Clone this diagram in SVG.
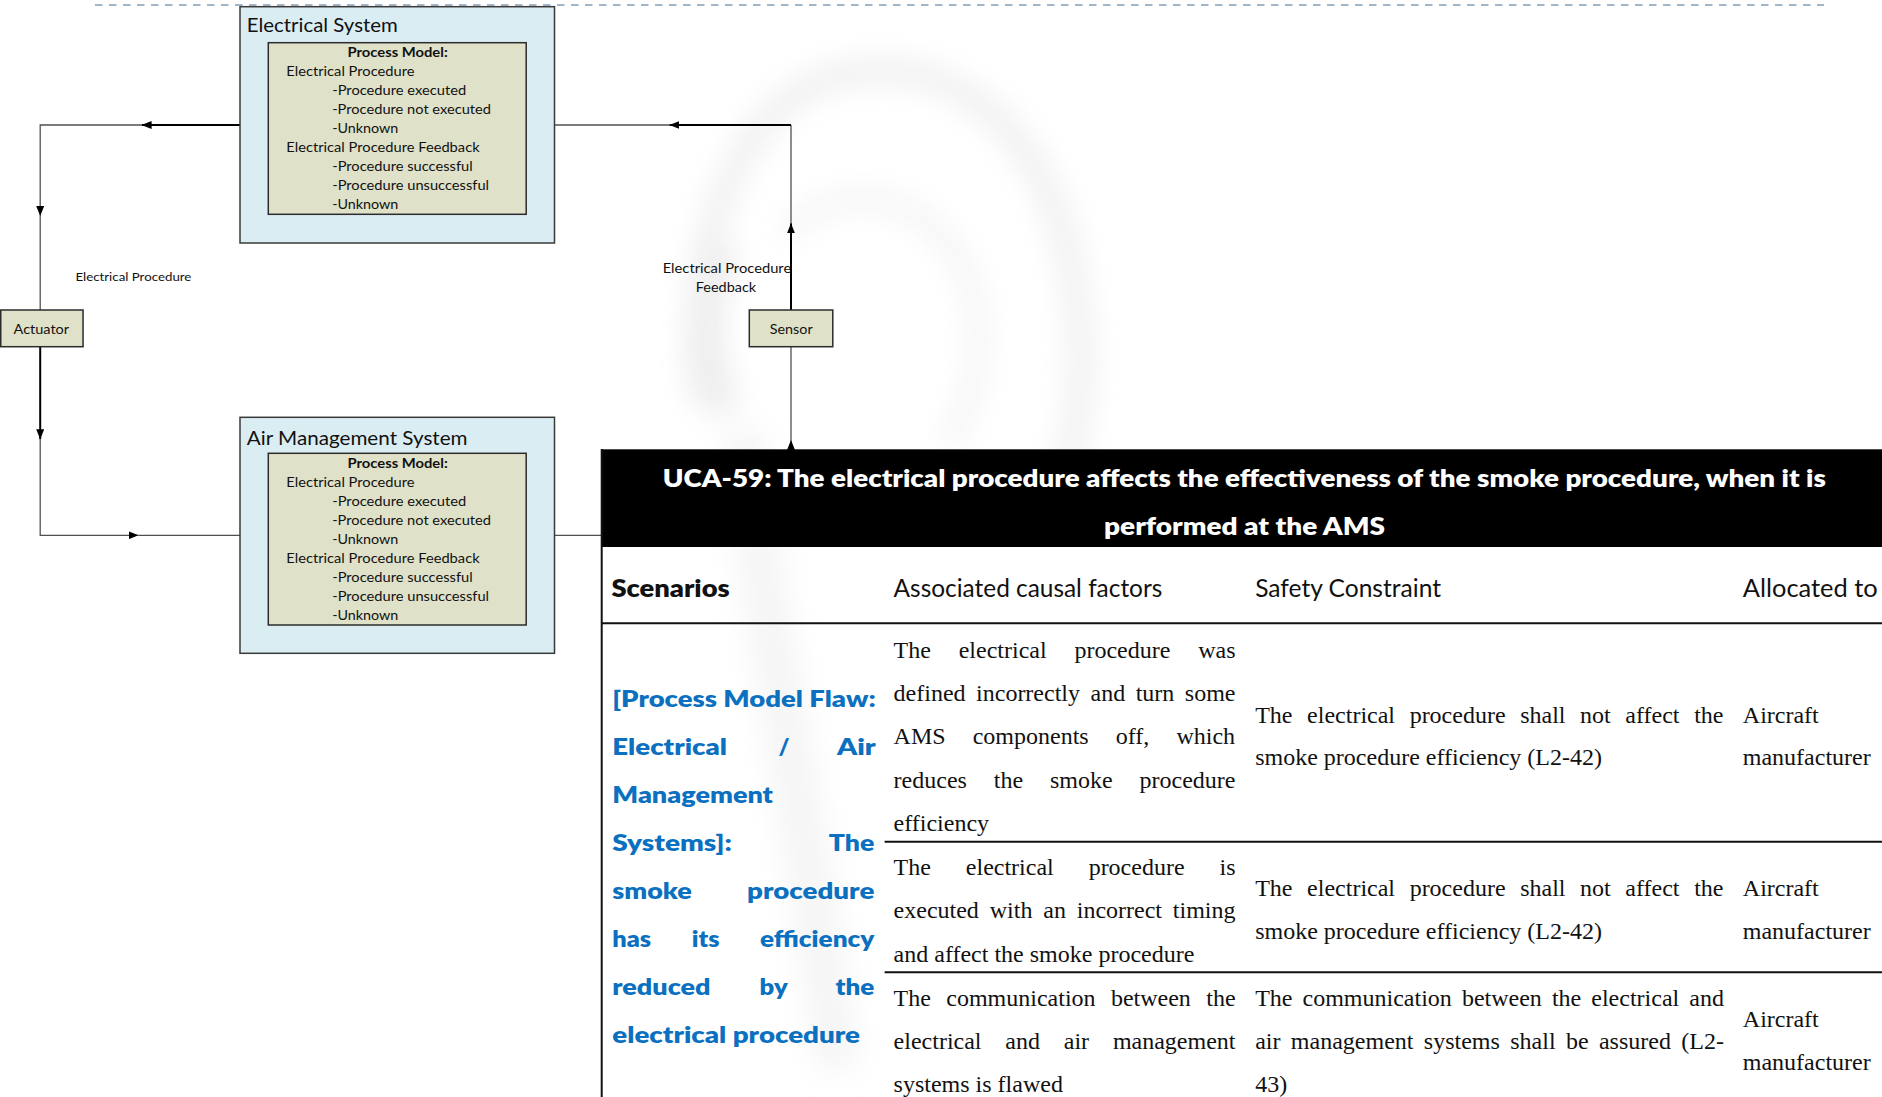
<svg xmlns="http://www.w3.org/2000/svg" width="1882" height="1097" viewBox="0 0 1882 1097">
  <style>
    .sys { fill: #daedf3; stroke: #3a3a3a; stroke-width: 1.5; }
    .pm { fill: #dfe1c9; stroke: #2c2c2c; stroke-width: 1.5; }
    .blk { fill: #dfe1c9; stroke: #2c2c2c; stroke-width: 1.5; }
    .ui { font-family: Lato, "Open Sans", "Liberation Sans", sans-serif; fill: #111; }
    .title { font-size: 19px; }
    .pmt { font-size: 13px; }
    .pmh { font-size: 13px; font-weight: 700; }
    .lbl { font-size: 13px; }
    .thin { fill: none; stroke: #505050; stroke-width: 1.3; }
    .thick { fill: none; stroke: #000; stroke-width: 2; }
    .hdr { font-family: Lato, "Open Sans", sans-serif; font-size: 24px; font-weight: 800; fill: #fff; }
    .colh { font-family: Lato, "Open Sans", sans-serif; font-size: 25px; fill: #111; }
    .ser { font-family: "Liberation Serif", "Times New Roman", serif; font-size: 24px; fill: #111; }
    .scn { font-family: Lato, "Open Sans", sans-serif; font-size: 23px; font-weight: 800; fill: #0b70bf; }
    .rule { stroke: #111; stroke-width: 2; }
  </style>
  <defs>
    <marker id="arr" viewBox="0 0 10 8" refX="10" refY="4" markerWidth="10" markerHeight="8" markerUnits="userSpaceOnUse" orient="auto">
      <path d="M0,0 L10,4 L0,8 z" fill="#000"/>
    </marker>
    <filter id="soft" x="-30%" y="-30%" width="160%" height="160%">
      <feGaussianBlur stdDeviation="14"/>
    </filter>
  </defs>

  <rect width="1882" height="1097" fill="#fff"/>

  <!-- faint background figure -->
  <g id="watermark" filter="url(#soft)" fill="none" stroke-linecap="round" opacity="0.5">
    <path d="M700,390 C688,230 740,110 830,78 C940,45 1040,120 1070,260 C1090,360 1080,430 1060,480" stroke="#e2e2e2" stroke-width="26"/>
    <path d="M790,230 C850,170 950,200 975,300 C985,360 970,410 950,440" stroke="#e6e6e6" stroke-width="18"/>
    <path d="M720,260 C700,300 705,360 720,400" stroke="#dcdcdc" stroke-width="34"/>
    <path d="M745,450 C765,620 805,820 835,1050" stroke="#ececec" stroke-width="46"/>
  </g>

  <!-- boundary line -->
  <line x1="95" y1="5" x2="1824" y2="5" stroke="#a3b6c9" stroke-width="2" stroke-dasharray="7.5 6.5"/>

  <!-- connectors -->
  <g id="connectors">
    <!-- Electrical System to Actuator -->
    <path class="thick" d="M240,125 H141.6" marker-end="url(#arr)"/>
    <path class="thin" d="M141.6,125 H40.2 V216" marker-end="url(#arr)"/>
    <path class="thin" d="M40.2,216 V310"/>
    <!-- Actuator to Air Management System -->
    <path class="thick" d="M40.2,346.7 V439.3" marker-end="url(#arr)"/>
    <path class="thin" d="M40.2,439.3 V535.3 H138.5" marker-end="url(#arr)"/>
    <path class="thin" d="M138.5,535.3 H240"/>
    <!-- Air Management System to Sensor -->
    <path class="thin" d="M554.5,535.3 H791 V440" marker-end="url(#arr)"/>
    <path class="thin" d="M791,440 V346.7"/>
    <!-- Sensor to Electrical System -->
    <path class="thick" d="M791,310 V223.3" marker-end="url(#arr)"/>
    <path class="thin" d="M791,223.3 V125"/>
    <path class="thick" d="M791,125 H669.4" marker-end="url(#arr)"/>
    <path class="thin" d="M669.4,125 H554.5"/>
    <!-- labels -->
    <text class="ui lbl" x="75.4" y="281" textLength="116" lengthAdjust="spacingAndGlyphs" style="font-size:12px">Electrical Procedure</text>
    <text class="ui lbl" x="662.7" y="272.5" textLength="128.5" lengthAdjust="spacingAndGlyphs">Electrical Procedure</text>
    <text class="ui lbl" x="726" y="291.5" text-anchor="middle" textLength="60.3" lengthAdjust="spacingAndGlyphs">Feedback</text>
  </g>

  <!-- Electrical System -->
  <g id="electrical-system">
    <rect class="sys" x="240" y="6.7" width="314.5" height="236.3"/>
    <text class="ui title" x="246.8" y="32.3" textLength="151" lengthAdjust="spacingAndGlyphs">Electrical System</text>
    <rect class="pm" x="268.3" y="42.7" width="257.9" height="171.6"/>
    <text class="ui pmh" x="397.6" y="57" text-anchor="middle" textLength="100.3" lengthAdjust="spacingAndGlyphs">Process Model:</text>
    <text class="ui pmt" x="286.3" y="76" textLength="128.2" lengthAdjust="spacingAndGlyphs">Electrical Procedure</text>
    <text class="ui pmt" x="332.2" y="95" textLength="134" lengthAdjust="spacingAndGlyphs">-Procedure executed</text>
    <text class="ui pmt" x="332.2" y="114" textLength="158.8" lengthAdjust="spacingAndGlyphs">-Procedure not executed</text>
    <text class="ui pmt" x="332.2" y="133" textLength="66.2" lengthAdjust="spacingAndGlyphs">-Unknown</text>
    <text class="ui pmt" x="286.3" y="152" textLength="193.3" lengthAdjust="spacingAndGlyphs">Electrical Procedure Feedback</text>
    <text class="ui pmt" x="332.2" y="171" textLength="140.5" lengthAdjust="spacingAndGlyphs">-Procedure successful</text>
    <text class="ui pmt" x="332.2" y="190" textLength="156.9" lengthAdjust="spacingAndGlyphs">-Procedure unsuccessful</text>
    <text class="ui pmt" x="332.2" y="209" textLength="66.2" lengthAdjust="spacingAndGlyphs">-Unknown</text>
  </g>

  <!-- Air Management System -->
  <g id="air-management-system">
    <rect class="sys" x="240" y="417.3" width="314.5" height="236"/>
    <text class="ui title" x="246.8" y="445" textLength="220.8" lengthAdjust="spacingAndGlyphs">Air Management System</text>
    <rect class="pm" x="268.3" y="453.3" width="257.9" height="171.7"/>
    <text class="ui pmh" x="397.6" y="468" text-anchor="middle" textLength="100.3" lengthAdjust="spacingAndGlyphs">Process Model:</text>
    <text class="ui pmt" x="286.3" y="487" textLength="128.2" lengthAdjust="spacingAndGlyphs">Electrical Procedure</text>
    <text class="ui pmt" x="332.2" y="506" textLength="134" lengthAdjust="spacingAndGlyphs">-Procedure executed</text>
    <text class="ui pmt" x="332.2" y="525" textLength="158.8" lengthAdjust="spacingAndGlyphs">-Procedure not executed</text>
    <text class="ui pmt" x="332.2" y="544" textLength="66.2" lengthAdjust="spacingAndGlyphs">-Unknown</text>
    <text class="ui pmt" x="286.3" y="563" textLength="193.3" lengthAdjust="spacingAndGlyphs">Electrical Procedure Feedback</text>
    <text class="ui pmt" x="332.2" y="582" textLength="140.5" lengthAdjust="spacingAndGlyphs">-Procedure successful</text>
    <text class="ui pmt" x="332.2" y="601" textLength="156.9" lengthAdjust="spacingAndGlyphs">-Procedure unsuccessful</text>
    <text class="ui pmt" x="332.2" y="620" textLength="66.2" lengthAdjust="spacingAndGlyphs">-Unknown</text>
  </g>

  <!-- Actuator -->
  <g id="actuator">
    <rect class="blk" x="0.75" y="310" width="82.3" height="36.7"/>
    <text class="ui lbl" x="41.3" y="333.5" text-anchor="middle" textLength="55.5" lengthAdjust="spacingAndGlyphs" style="font-size:14px">Actuator</text>
  </g>

  <!-- Sensor -->
  <g id="sensor">
    <rect class="blk" x="749.3" y="310" width="83.5" height="36.7"/>
    <text class="ui lbl" x="791.2" y="333.5" text-anchor="middle" textLength="42.9" lengthAdjust="spacingAndGlyphs" style="font-size:14px">Sensor</text>
  </g>

  <!-- UCA-59 scenario table -->
  <g id="uca-table">
    <rect x="601" y="449.3" width="1281" height="97.7" fill="#000"/>
    <text class="hdr" x="662.8" y="487" textLength="1163" lengthAdjust="spacingAndGlyphs">UCA-59: The electrical procedure affects the effectiveness of the smoke procedure, when it is</text>
    <text class="hdr" x="1104" y="535" textLength="281" lengthAdjust="spacingAndGlyphs">performed at the AMS</text>

    <line class="rule" x1="601.7" y1="449" x2="601.7" y2="1097" stroke-width="2.2"/>
    <line class="rule" x1="601" y1="623.3" x2="1882" y2="623.3" stroke-width="2.2"/>
    <line class="rule" x1="884.6" y1="841.7" x2="1882" y2="841.7"/>
    <line class="rule" x1="884.6" y1="972.3" x2="1882" y2="972.3"/>

    <!-- column headings -->
    <text class="colh" x="611.4" y="597" font-weight="800" textLength="118.3" lengthAdjust="spacingAndGlyphs">Scenarios</text>
    <text class="colh" x="893.6" y="597" textLength="268.7" lengthAdjust="spacingAndGlyphs">Associated causal factors</text>
    <text class="colh" x="1255.2" y="597" textLength="185.8" lengthAdjust="spacingAndGlyphs">Safety Constraint</text>
    <text class="colh" x="1742.8" y="597" textLength="135" lengthAdjust="spacingAndGlyphs">Allocated to</text>

    <!-- scenario -->
    <g class="scn">
      <text x="612.3" y="706.7" textLength="263.4" lengthAdjust="spacingAndGlyphs">[Process Model Flaw:</text>
      <text x="612.3" y="754.7" textLength="114.7" lengthAdjust="spacingAndGlyphs">Electrical</text>
      <text x="778.4" y="754.7">/</text>
      <text x="836.9" y="754.7" textLength="38.8" lengthAdjust="spacingAndGlyphs">Air</text>
      <text x="612.3" y="802.7" textLength="160.7" lengthAdjust="spacingAndGlyphs">Management</text>
      <text x="612.3" y="850.7" textLength="119.6" lengthAdjust="spacingAndGlyphs">Systems]:</text>
      <text x="828.8" y="850.7" textLength="45.5" lengthAdjust="spacingAndGlyphs">The</text>
      <text x="612.3" y="898.7" textLength="79.5" lengthAdjust="spacingAndGlyphs">smoke</text>
      <text x="747.1" y="898.7" textLength="127.2" lengthAdjust="spacingAndGlyphs">procedure</text>
      <text x="612.3" y="946.7" textLength="38.8" lengthAdjust="spacingAndGlyphs">has</text>
      <text x="691.8" y="946.7" textLength="27.7" lengthAdjust="spacingAndGlyphs">its</text>
      <text x="760" y="946.7" textLength="114.3" lengthAdjust="spacingAndGlyphs">efficiency</text>
      <text x="612.3" y="994.7" textLength="98.2" lengthAdjust="spacingAndGlyphs">reduced</text>
      <text x="759.6" y="994.7" textLength="28.1" lengthAdjust="spacingAndGlyphs">by</text>
      <text x="835.5" y="994.7" textLength="38.8" lengthAdjust="spacingAndGlyphs">the</text>
      <text x="612.3" y="1042.7" textLength="247.7" lengthAdjust="spacingAndGlyphs">electrical procedure</text>
    </g>

    <!-- associated causal factors -->
    <g class="ser">
      <text x="893.6" y="658" style="word-spacing:21.8px">The electrical procedure was</text>
      <text x="893.6" y="701" style="word-spacing:4.5px">defined incorrectly and turn some</text>
      <text x="893.6" y="744" style="word-spacing:21.1px">AMS components off, which</text>
      <text x="893.6" y="787.5" style="word-spacing:20.9px">reduces the smoke procedure</text>
      <text x="893.6" y="830.5">efficiency</text>

      <text x="893.6" y="875" style="word-spacing:28.9px">The electrical procedure is</text>
      <text x="893.6" y="918.3" style="word-spacing:4.85px">executed with an incorrect timing</text>
      <text x="893.6" y="961.7">and affect the smoke procedure</text>

      <text x="893.6" y="1006" style="word-spacing:9.35px">The communication between the</text>
      <text x="893.6" y="1049" style="word-spacing:17.8px">electrical and air management</text>
      <text x="893.6" y="1092">systems is flawed</text>
    </g>

    <!-- safety constraints -->
    <g class="ser">
      <text x="1255.2" y="722.7" style="word-spacing:8.6px">The electrical procedure shall not affect the</text>
      <text x="1255.2" y="765">smoke procedure efficiency (L2-42)</text>

      <text x="1255.2" y="896" style="word-spacing:8.6px">The electrical procedure shall not affect the</text>
      <text x="1255.2" y="939.3">smoke procedure efficiency (L2-42)</text>

      <text x="1255.2" y="1006" style="word-spacing:4.05px">The communication between the electrical and</text>
      <text x="1255.2" y="1049" style="word-spacing:4.37px">air management systems shall be assured (L2-</text>
      <text x="1255.2" y="1092">43)</text>
    </g>

    <!-- allocation -->
    <g class="ser">
      <text x="1742.8" y="722.7">Aircraft</text>
      <text x="1742.8" y="765">manufacturer</text>
      <text x="1742.8" y="896">Aircraft</text>
      <text x="1742.8" y="939.3">manufacturer</text>
      <text x="1742.8" y="1026.7">Aircraft</text>
      <text x="1742.8" y="1070">manufacturer</text>
    </g>
  </g>
</svg>
